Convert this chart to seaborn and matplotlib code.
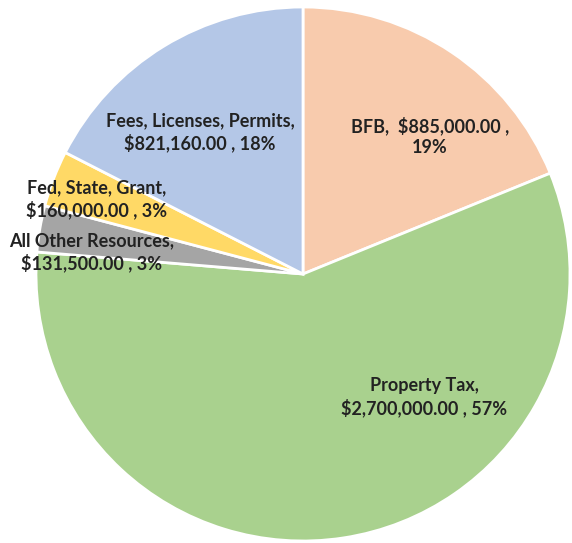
import matplotlib
matplotlib.use("Agg")
import matplotlib.pyplot as plt
import seaborn as sns

# Revenue sources, clockwise from 12 o'clock
categories = ["BFB", "Property Tax", "All Other Resources", "Fed, State, Grant",
              "Fees, Licenses, Permits"]
amounts = [885000.00, 2700000.00, 131500.00, 160000.00, 821160.00]
label_lines = [
    ("BFB,  $885,000.00 ,", "19%"),
    ("Property Tax,", "$2,700,000.00 , 57%"),
    ("All Other Resources,", "$131,500.00 , 3%"),
    ("Fed, State, Grant,", "$160,000.00 , 3%"),
    ("Fees, Licenses, Permits,", "$821,160.00 , 18%"),
]

colors = ["#F8CBAD", "#A9D18E", "#A5A5A5", "#FFD966", "#B4C7E7"]

W, H, DPI = 572, 543, 100
cx, cy, R = 303, 274, 267
# label centres in pixels, converted to pie units (radius = 1)
label_px = [(430, 136), (424, 397), (92, 252), (97, 199), (200, 132)]
label_xy = [((px - cx) / R, (cy - py) / R) for px, py in label_px]

sns.set_theme(style="white")
plt.rcParams["font.family"] = ["Lato", "DejaVu Sans"]

fig = plt.figure(figsize=(W / DPI, H / DPI), dpi=DPI)
ax = fig.add_axes([0, 0, 1, 1])

ax.pie(amounts, colors=colors, startangle=90, counterclock=False, radius=1,
       wedgeprops=dict(edgecolor="white", linewidth=2))
ax.set_aspect("equal")
ax.set_xlim(-cx / R, (W - cx) / R)
ax.set_ylim(-(H - cy) / R, cy / R)
ax.axis("off")

for (l1, l2), (x, y) in zip(label_lines, label_xy):
    ax.text(x, y, l1 + "\n" + l2, ha="center", va="center", fontsize=13,
            fontweight="bold", color="#222222", linespacing=1.25)

fig.savefig("out.png", dpi=DPI, facecolor="white")
